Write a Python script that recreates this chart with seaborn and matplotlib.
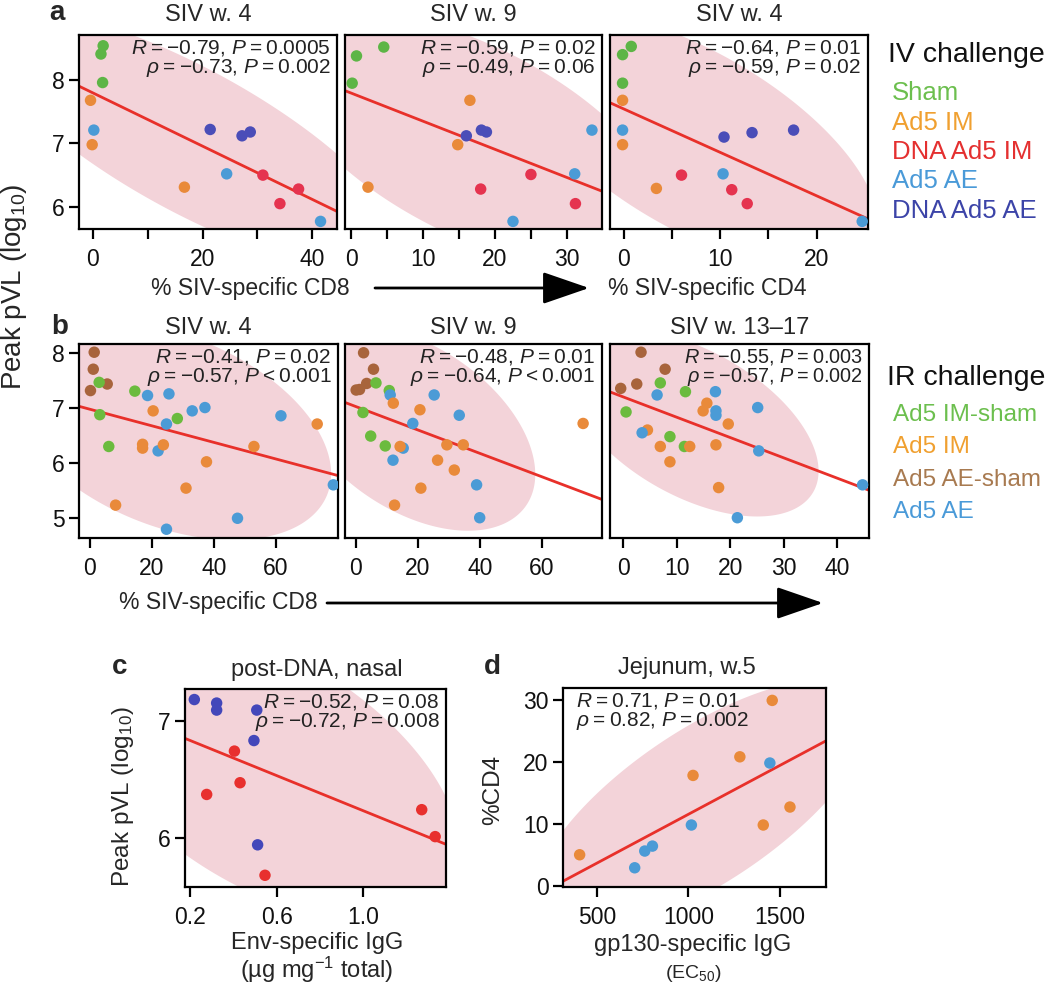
import numpy as np
import pandas as pd
import matplotlib
matplotlib.use("Agg")
import matplotlib.pyplot as plt
import seaborn as sns
from matplotlib.patches import FancyArrowPatch, ArrowStyle

# ---------------- data ----------------
iv_groups = ["Sham", "Ad5 IM", "DNA Ad5 IM", "Ad5 AE", "DNA Ad5 AE"]
iv_colors = ["#5DB546", "#E98A3A", "#E5334F", "#4B9BD6", "#4A4DB8"]
iv_text_colors = ["#6CBF4E", "#F0A030", "#E43030", "#4A9AD8", "#3C44A8"]
a_group = ["Sham"] * 3 + ["Ad5 IM"] * 3 + ["Ad5 AE"] * 3 + ["DNA Ad5 AE"] * 3 + ["DNA Ad5 IM"] * 3

a1_x = [1.9, 1.5, 1.8, -0.4, -0.1, 16.7, 0.2, 24.4, 41.5, 21.4, 27.2, 28.7, 31.0, 37.5, 34.1]
a1_y = [8.54, 8.41, 7.96, 7.68, 6.98, 6.31, 7.21, 6.52, 5.77, 7.22, 7.12, 7.18, 6.50, 6.28, 6.05]
a2_x = [0.7, 4.5, 0.1, 16.5, 14.8, 2.3, 33.5, 31.1, 22.5, 16.0, 18.1, 18.8, 25.0, 18.0, 31.2]
a2_y = [8.38, 8.52, 7.95, 7.68, 6.98, 6.31, 7.21, 6.52, 5.77, 7.12, 7.21, 7.18, 6.51, 6.28, 6.05]
a3_x = [0.8, -0.1, -0.1, -0.1, -0.1, 3.4, -0.1, 10.3, 24.7, 10.4, 13.3, 17.6, 6.0, 11.2, 12.8]
a3_y = [8.53, 8.40, 7.95, 7.68, 6.98, 6.29, 7.21, 6.52, 5.77, 7.10, 7.17, 7.21, 6.50, 6.27, 6.05]
a_titles = ["SIV w. 4", "SIV w. 9", "SIV w. 4"]
a_stats = [("−0.79", "0.0005", "−0.73", "0.002"),
           ("−0.59", "0.02", "−0.49", "0.06"),
           ("−0.64", "0.01", "−0.59", "0.02")]

ir_groups = ["Ad5 IM-sham", "Ad5 IM", "Ad5 AE-sham", "Ad5 AE"]
ir_colors = ["#6BBB3E", "#E98A3A", "#A8643C", "#4B9BD6"]
ir_text_colors = ["#6CBF4E", "#F0A030", "#A87A50", "#4A9AD8"]

b1_group = ["Ad5 AE-sham"] * 4 + ["Ad5 IM-sham"] * 5 + ["Ad5 AE"] * 10 + ["Ad5 IM"] * 9
b1_x = [1.4, 1.1, 0.2, 5.6,
        3.0, 14.5, 3.2, 6.1, 28.2,
        18.6, 25.5, 33.0, 37.1, 24.7, 22.0, 61.6, 78.5, 47.6, 24.7,
        20.4, 17.0, 17.0, 23.7, 37.6, 52.9, 73.3, 31.0, 8.3]
b1_y = [8.02, 7.71, 7.32, 7.44,
        7.47, 7.31, 6.88, 6.30, 6.81,
        7.23, 7.26, 6.95, 7.01, 6.71, 6.22, 6.86, 5.60, 4.99, 4.79,
        6.95, 6.34, 6.27, 6.33, 6.02, 6.30, 6.71, 5.54, 5.23]

b2_group = ["Ad5 AE-sham"] * 5 + ["Ad5 IM-sham"] * 5 + ["Ad5 AE"] * 8 + ["Ad5 IM"] * 10
b2_x = [2.5, 5.7, 3.5, 0.1, 1.2,
        6.5, 10.8, 2.3, 4.8, 9.5,
        11.1, 25.3, 33.4, 18.4, 15.3, 39.0, 40.0, 12.0,
        73.4, 20.7, 12.1, 14.3, 29.4, 34.7, 26.4, 12.5, 21.0, 31.8]
b2_y = [8.01, 7.71, 7.45, 7.33, 7.34,
        7.46, 7.32, 6.92, 6.49, 6.31,
        7.24, 7.24, 6.87, 6.72, 6.27, 5.60, 5.00, 6.05,
        6.72, 6.97, 7.09, 6.30, 6.33, 6.33, 6.05, 5.23, 5.54, 5.87]

b3_group = ["Ad5 AE-sham"] * 4 + ["Ad5 IM-sham"] * 5 + ["Ad5 IM"] * 9 + ["Ad5 AE"] * 9
b3_x = [3.3, 7.8, -0.5, 2.5,
        6.9, 11.6, 0.5, 8.7, 11.4,
        15.6, 14.9, 19.6, 12.4, 17.3, 8.7, 17.8, 6.9, 4.5,
        17.2, 17.3, 17.3, 25.1, 25.3, 44.7, 21.3, 6.3, 3.5]
b3_y = [8.02, 7.71, 7.36, 7.44,
        7.46, 7.30, 6.93, 6.48, 6.30,
        7.09, 6.95, 6.71, 6.30, 6.33, 6.02, 5.55, 6.30, 6.60,
        7.30, 6.95, 6.87, 7.01, 6.22, 5.60, 5.00, 7.24, 6.55]
b_titles = ["SIV w. 4", "SIV w. 9", "SIV w. 13–17"]
b_stats = [("−0.41", "=", "0.02", "−0.57", "<", "0.001"),
           ("−0.48", "=", "0.01", "−0.64", "<", "0.001"),
           ("−0.55", "=", "0.003", "−0.57", "=", "0.002")]

c_group = ["DNA Ad5 AE"] * 6 + ["DNA Ad5 IM"] * 6
c_x = [0.22, 0.323, 0.323, 0.508, 0.495, 0.512, 0.405, 0.431, 0.277, 0.546, 1.269, 1.331]
c_y = [7.18, 7.15, 7.09, 7.09, 6.83, 5.94, 6.74, 6.47, 6.37, 5.68, 6.24, 6.01]
c_colors = {"DNA Ad5 AE": "#4347BA", "DNA Ad5 IM": "#E8302E"}

d_group = ["Ad5 IM"] * 6 + ["Ad5 AE"] * 5
d_x = [405, 1025, 1281, 1458, 1409, 1555, 706, 761, 803, 1016, 1445]
d_y = [5.1, 17.9, 20.9, 30.0, 9.9, 12.8, 3.0, 5.7, 6.5, 9.9, 19.9]
d_colors = {"Ad5 IM": "#E98A3A", "Ad5 AE": "#4B9BD6"}

# ---------------- style ----------------
sns.set_theme(style="ticks")
plt.rcParams["font.family"] = ["Liberation Sans", "DejaVu Sans"]
plt.rcParams["mathtext.fontset"] = "custom"
plt.rcParams["mathtext.rm"] = "Liberation Sans"
plt.rcParams["mathtext.it"] = "Liberation Sans:italic"
plt.rcParams["mathtext.sf"] = "Liberation Sans"

W, H = 1050, 985
fig = plt.figure(figsize=(W / 100, H / 100), dpi=100)
fig.patch.set_facecolor("white")

ELL = "#F3D3D9"
LINE = "#E8302A"
TS = "\u2009"  # thin space
TICK_FS = 16.5
TITLE_FS = 17


def P(x, y):
    return (x / W, 1 - y / H)


def add_ax(x0, y0, x1, y1):
    return fig.add_axes([x0 / W, 1 - y1 / H, (x1 - x0) / W, (y1 - y0) / H])


def ftext(x, y, s, **kw):
    kw.setdefault("ha", "center")
    kw.setdefault("va", "center")
    fig.text(*P(x, y), s, **kw)


def panel(ax, x, y, groups, palette, xlim, ylim, xticks, xlabels, yticks):
    df = pd.DataFrame({"x": x, "y": y, "group": groups})
    xs, ys = np.asarray(x, float), np.asarray(y, float)
    cov = np.cov(xs, ys)
    L = np.linalg.cholesky(cov)
    t = np.linspace(0, 2 * np.pi, 300)
    r = np.sqrt(5.991)
    pts = np.array([xs.mean(), ys.mean()])[:, None] + r * L @ np.vstack([np.cos(t), np.sin(t)])
    ax.fill(pts[0], pts[1], color=ELL, lw=0, zorder=0)
    ax.set_xlim(*xlim)
    ax.set_ylim(*ylim)
    sns.regplot(data=df, x="x", y="y", ax=ax, scatter=False, ci=None, truncate=False,
                color=LINE, line_kws={"lw": 2.0, "zorder": 2})
    sns.scatterplot(data=df, x="x", y="y", hue="group", palette=palette, ax=ax,
                    s=68, linewidth=0, legend=False, zorder=3)
    ax.set_xlim(*xlim)
    ax.set_ylim(*ylim)
    ax.set_xlabel("")
    ax.set_ylabel("")
    ax.set_xticks(xticks)
    ax.set_xticklabels(xlabels)
    if yticks is None:
        ax.set_yticks([])
    else:
        ax.set_yticks(yticks)
        ax.set_yticklabels([str(v) for v in yticks])
    for s in ax.spines.values():
        s.set_linewidth(1.6)
        s.set_color("black")
        s.set_visible(True)
    ax.tick_params(axis="both", direction="out", length=7.5, width=1.6, color="black",
                   labelsize=TICK_FS, labelcolor="#111111")
    ax.tick_params(axis="x", pad=6)
    ax.tick_params(axis="y", pad=3)
    ax.set_facecolor("white")
    return ax


def stats_line(sym, r, rel, p):
    return f"{sym}{TS}={TS}{r}, $P${TS}{rel}{TS}{p}"


def stats_text(ax, s1, s2, ha="right", fs=15):
    xpos = 0.975 if ha == "right" else 0.05
    ax.text(xpos, 0.985, s1 + "\n" + s2, transform=ax.transAxes, ha=ha, va="top",
            fontsize=fs, color="#222222", linespacing=0.95, zorder=5)


iv_pal = dict(zip(iv_groups, iv_colors))
ir_pal = dict(zip(ir_groups, ir_colors))

# ---------------- panel a ----------------
a_rects = [(79, 35, 337, 229), (345, 35, 602, 229), (610, 35, 868, 229)]
a_data = [(a1_x, a1_y), (a2_x, a2_y), (a3_x, a3_y)]
a_xlims = [(-2.5, 44.5), (-0.9, 34.9), (-1.4, 25.3)]
a_xt = [[0, 10, 20, 30, 40], [0, 5, 10, 15, 20, 25, 30], [0, 5, 10, 15, 20]]
a_xl = [["0", "", "20", "", "40"], ["0", "", "10", "", "20", "", "30"], ["0", "", "10", "", "20"]]
for i in range(3):
    ax = add_ax(*a_rects[i])
    panel(ax, a_data[i][0], a_data[i][1], a_group, iv_pal, a_xlims[i], (5.65, 8.71),
          a_xt[i], a_xl[i], [6, 7, 8] if i == 0 else None)
    r, p, rho, p2 = a_stats[i]
    stats_text(ax, stats_line("$R$", r, "=", p), stats_line(r"$\rho$", rho, "=", p2))
    cx = (a_rects[i][0] + a_rects[i][2]) / 2
    ftext(cx, 15, a_titles[i], fontsize=TITLE_FS)

ftext(57, 13, "a", fontsize=20, fontweight="bold")

ftext(250, 288, "% SIV-specific CD8", fontsize=16.5)
ftext(707, 288, "% SIV-specific CD4", fontsize=16.5)
arrow_style = ArrowStyle("-|>", head_length=1.45, head_width=0.5)
fig.patches.append(FancyArrowPatch(P(375, 288), P(589, 288), transform=fig.transFigure,
                                   arrowstyle=arrow_style, mutation_scale=20, lw=2,
                                   color="black", shrinkA=0, shrinkB=0))

# IV legend
ftext(888, 55, "IV challenge", fontsize=20.5, ha="left", color="#111111")
for k, (g, c) in enumerate(zip(iv_groups, iv_text_colors)):
    ftext(892, 93 + k * 29.5, g, fontsize=18.5, ha="left", color=c)

# ---------------- panel b ----------------
b_rects = [(79, 344, 338, 538), (345, 344, 602, 538), (610, 344, 869, 538)]
b_data = [(b1_x, b1_y, b1_group), (b2_x, b2_y, b2_group), (b3_x, b3_y, b3_group)]
b_xlims = [(-3.5, 80), (-3.5, 79.5), (-2.5, 45.9)]
b_xt = [[0, 20, 40, 60], [0, 20, 40, 60], [0, 10, 20, 30, 40]]
for i in range(3):
    ax = add_ax(*b_rects[i])
    panel(ax, b_data[i][0], b_data[i][1], b_data[i][2], ir_pal, b_xlims[i], (4.63, 8.17),
          b_xt[i], [str(v) for v in b_xt[i]], [5, 6, 7, 8] if i == 0 else None)
    r, rel1, p, rho, rel2, p2 = b_stats[i]
    stats_text(ax, stats_line("$R$", r, rel1, p), stats_line(r"$\rho$", rho, rel2, p2),
               fs=15 if i < 2 else 14.3)
    cx = (b_rects[i][0] + b_rects[i][2]) / 2
    ftext(cx, 328, b_titles[i], fontsize=TITLE_FS)

ftext(60, 327, "b", fontsize=20, fontweight="bold")
ftext(218, 603, "% SIV-specific CD8", fontsize=16.5)
fig.patches.append(FancyArrowPatch(P(327, 603), P(823, 603), transform=fig.transFigure,
                                   arrowstyle=arrow_style, mutation_scale=20, lw=2,
                                   color="black", shrinkA=0, shrinkB=0))

ftext(887, 378, "IR challenge", fontsize=20.5, ha="left", color="#111111")
for k, (g, c) in enumerate(zip(ir_groups, ir_text_colors)):
    ftext(893, 415 + k * 32.3, g, fontsize=17.5, ha="left", color=c)

ftext(14, 287, r"Peak pVL (log$_{10}$)", fontsize=20, rotation=90)

# ---------------- panel c ----------------
axc = add_ax(185, 689, 446, 887)
panel(axc, c_x, c_y, c_group, c_colors, (0.177, 1.381), (5.58, 7.27),
      [0.2, 0.6, 1.0], ["0.2", "0.6", "1.0"], [6, 7])
stats_text(axc, stats_line("$R$", "−0.52", "=", "0.08"),
           stats_line(r"$\rho$", "−0.72", "=", "0.008"), fs=15)
ftext(317, 670, "post-DNA, nasal", fontsize=17)
ftext(120, 667, "c", fontsize=20, fontweight="bold")
ftext(123, 797, r"Peak pVL (log$_{10}$)", fontsize=17.5, rotation=90)
ftext(317, 943, "Env-specific IgG", fontsize=17)
ftext(317, 970, r"(µg mg$^{-1}$ total)", fontsize=17)

# ---------------- panel d ----------------
axd = add_ax(563, 688, 826, 887)
panel(axd, d_x, d_y, d_group, d_colors, (314, 1752), (-0.1, 32),
      [500, 1000, 1500], ["500", "1000", "1500"], [0, 10, 20, 30])
stats_text(axd, stats_line("$R$", "0.71", "=", "0.01"),
           stats_line(r"$\rho$", "0.82", "=", "0.002"), ha="left", fs=15)
ftext(687, 668, "Jejunum, w.5", fontsize=17)
ftext(492, 667, "d", fontsize=20, fontweight="bold")
ftext(493, 790, "%CD4", fontsize=17.5, rotation=90)
ftext(693, 945, "gp130-specific IgG", fontsize=17)
ftext(693, 973, r"(EC$_{50}$)", fontsize=14)

fig.savefig("out.png", dpi=100, facecolor="white")
